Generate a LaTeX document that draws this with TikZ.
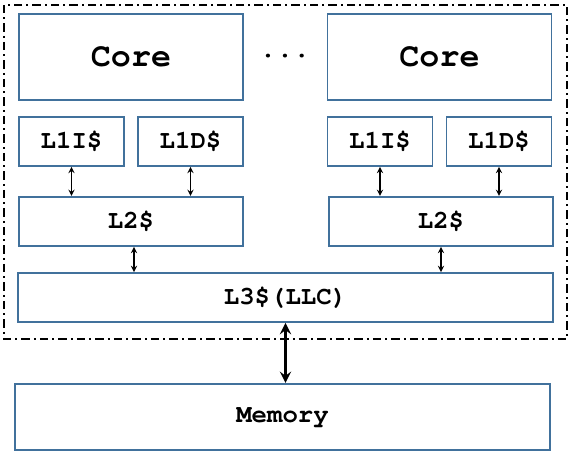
\documentclass[tikz,border=0pt]{standalone}
\usepackage[T1]{fontenc}
\usepackage{tikz}
\usetikzlibrary{positioning, fit, calc, arrows}
\usepackage{xcolor}
\definecolor{boxblue}{RGB}{65,113,156}
\newcommand{\courier}{\fontencoding{T1}\fontfamily{pcr}\fontseries{b}\selectfont}

\begin{document}
\begin{tikzpicture}[
    cache/.style={rectangle, draw=boxblue, line width=1.1pt, inner sep=0pt, font=\fontsize{14.6}{16}\courier},
    core/.style={cache, minimum width=4.48cm, minimum height=1.72cm, font=\fontsize{19}{22}\courier},
    l1_cache/.style={cache, minimum width=2.1cm, minimum height=0.98cm},
    wide_cache/.style={cache, minimum width=4.48cm, minimum height=0.98cm},
    link/.style={<->, >=stealth, line width=0.6pt},
    bus/.style={<->, >=stealth, line width=1.8pt},
    chip/.style={draw, line width=1.1pt, dash pattern=on 0.17cm off 0.08cm on 0.04cm off 0.08cm}]

    \useasboundingbox (0,0) rectangle (11.46,-9.1);

    % Left Core
    \node[core] (core0) at (2.62,-1.14) {Core};
    \node[l1_cache, below right=.3 and 0 of core0.south west] (l1i0) {L1I\$};
    \node[l1_cache, below left=.3 and 0 of core0.south east] (l1d0) {L1D\$};
    \node[wide_cache, below=1.9 of core0.south, anchor=north] (l2_0) {L2\$};
    \draw[link] (l1i0.south) -- (l1i0.south |- l2_0.north);
    \draw[link] (l1d0.south) -- (l1d0.south |- l2_0.north);

    \node[font=\fontsize{16}{18}\courier] (dots) at (5.70,-1.12) {...};

    % Right Core
    \node[core] (core1) at (8.79,-1.14) {Core};
    \node[l1_cache, below right=.3 and 0 of core1.south west] (l1i1) {L1I\$};
    \node[l1_cache, below left=.3 and 0 of core1.south east] (l1d1) {L1D\$};
    \node[wide_cache, below=1.9 of core1.south, anchor=north, xshift=0.03cm] (l2_1) {L2\$};
    \draw[link] (l1i1.south) -- (l1i1.south |- l2_1.north);
    \draw[link] (l1d1.south) -- (l1d1.south |- l2_1.north);

    % Shared LLC
    \node[cache, minimum width=10.7cm, minimum height=0.98cm] (l3) at (5.71,-5.95) {L3\$(LLC)};
    \draw[link] ($(l2_0.south)+(0.06,0)$) -- ($(l2_0.south |- l3.north)+(0.06,0)$);
    \draw[link] (l2_1.south) -- (l2_1.south |- l3.north);

    % Chip boundary
    \draw[chip] (0.08,-0.1) rectangle (11.34,-6.78);

    % Memory
    \node[cache, minimum width=10.7cm, minimum height=1.32cm, below=1.2 of l3.south, anchor=north, xshift=-0.06cm] (mem) {Memory};
    \draw[bus] (l3.south) -- (l3.south |- mem.north);

\end{tikzpicture}
\end{document}
